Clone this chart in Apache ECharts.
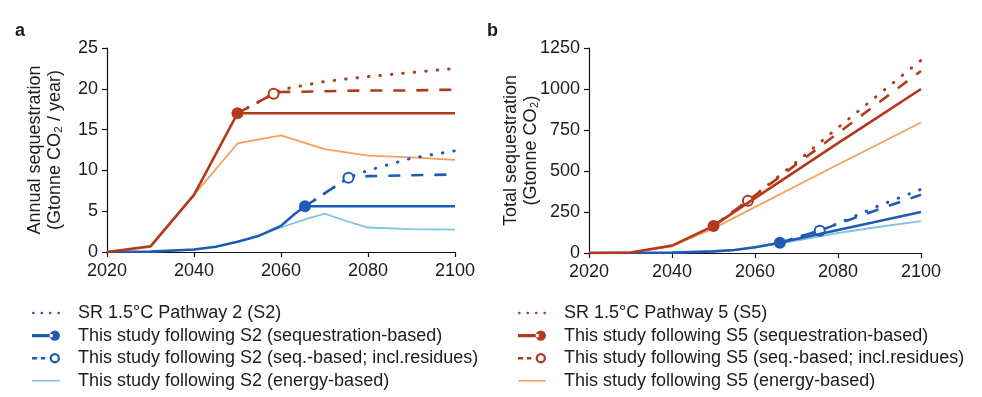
<!DOCTYPE html>
<html><head><meta charset="utf-8">
<script src="https://cdn.jsdelivr.net/npm/echarts@6/dist/echarts.min.js"></script>
<style>html,body{margin:0;padding:0;background:#fff}#c{width:982px;height:397px}</style>
</head><body><div id="c"></div>
<script>
// ---------- Category / label data ----------
const xTicks = [2020, 2040, 2060, 2080, 2100];
const S2_names = ['SR 1.5°C Pathway 2 (S2)', 'This study following S2 (sequestration-based)', 'This study following S2 (seq.-based; incl.residues)', 'This study following S2 (energy-based)'];
const S5_names = ['SR 1.5°C Pathway 5 (S5)', 'This study following S5 (sequestration-based)', 'This study following S5 (seq.-based; incl.residues)', 'This study following S5 (energy-based)'];

// ---------- Panel a: annual sequestration (Gtonne CO2 / year) ----------
const a_S2_pathway = [[2065.5,5.6],[2075.5,9.1],[2080,10.0],[2090,11.5],[2100,12.4]];
const a_S2_seq = [[2020,0],[2030,0.05],[2040,0.3],[2045,0.65],[2050,1.25],[2055,2.0],[2060,3.2],[2063,4.6],[2065.5,5.6],[2070,5.6],[2080,5.6],[2090,5.6],[2100,5.6]];
const a_S2_res = [[2065.5,5.6],[2075.5,9.1],[2080,9.3],[2090,9.4],[2100,9.5]];
const a_S2_energy = [[2020,0],[2030,0.05],[2040,0.3],[2045,0.65],[2050,1.25],[2055,2.0],[2060,3.0],[2065,3.9],[2070,4.7],[2075,3.8],[2080,3.0],[2090,2.8],[2100,2.75]];
const a_S5_pathway = [[2050,17.0],[2058.3,19.4],[2060,19.9],[2070,20.9],[2080,21.5],[2090,22.0],[2100,22.5]];
const a_S5_seq = [[2020,0],[2030,0.7],[2040,7.0],[2050,17.0],[2060,17.0],[2070,17.0],[2080,17.0],[2090,17.0],[2100,17.0]];
const a_S5_res = [[2050,17.0],[2058.3,19.4],[2060,19.6],[2070,19.7],[2080,19.8],[2090,19.8],[2100,19.9]];
const a_S5_energy = [[2020,0],[2030,0.6],[2040,7.0],[2050,13.3],[2060,14.3],[2070,12.6],[2080,11.8],[2090,11.6],[2100,11.3]];
const a_marks = {S2seq: [2065.5,5.6], S2res: [2075.5,9.1], S5seq: [2050,17.0], S5res: [2058.3,19.4]};

// ---------- Panel b: total sequestration (Gtonne CO2) ----------
const b_S2_pathway = [[2066,63],[2075.6,136],[2080,180],[2090,290],[2100,388]];
const b_S2_seq = [[2020,0],[2030,0],[2040,2],[2050,10],[2055,18],[2060,35],[2066,63],[2070,85],[2080,140],[2090,195],[2100,250]];
const b_S2_res = [[2066,63],[2075.6,136],[2080,178],[2090,268],[2100,355]];
const b_S2_energy = [[2020,0],[2030,0],[2040,2],[2050,10],[2055,18],[2060,33],[2070,75],[2080,122],[2090,160],[2100,195]];
const b_S5_pathway = [[2050,165],[2058.3,319],[2060,352],[2070,555],[2080,765],[2090,970],[2100,1175]];
const b_S5_seq = [[2020,0],[2030,3],[2040,45],[2050,165],[2060,335],[2070,502],[2080,670],[2090,835],[2100,1000]];
const b_S5_res = [[2050,165],[2058.3,319],[2070,541],[2080,731],[2090,921],[2100,1110]];
const b_S5_energy = [[2020,0],[2030,3],[2040,42],[2050,150],[2060,280],[2070,410],[2080,540],[2090,668],[2100,796]];
const b_marks = {S2seq: [2066,63], S2res: [2075.6,136], S5seq: [2050,165], S5res: [2058.3,319]};

// ---------- Styling ----------
const FONT = 'Liberation Sans, Arial, Helvetica, sans-serif';
const TXT = '#1c1c1c';
const C = {red: '#b3391c', orange: '#f6a05c', blue: '#1f5bb5', lblue: '#84c4e0'};

const ICON_DOT = 'path://M0,7 a1.3,1.3 0 1,0 2.6,0 a1.3,1.3 0 1,0 -2.6,0 Z M8.3,7 a1.3,1.3 0 1,0 2.6,0 a1.3,1.3 0 1,0 -2.6,0 Z M16.6,7 a1.3,1.3 0 1,0 2.6,0 a1.3,1.3 0 1,0 -2.6,0 Z M24.9,7 a1.3,1.3 0 1,0 2.6,0 a1.3,1.3 0 1,0 -2.6,0 Z';
const ICON_SEQ = 'path://M0,5.5 L20,5.5 L20,8.5 L0,8.5 Z M17,7 a5,5 0 1,0 10,0 a5,5 0 1,0 -10,0 Z';
const ICON_RES = 'path://M0,5.8 L5,5.8 L5,8.2 L0,8.2 Z M8.5,5.8 L12.8,5.8 L12.8,8.2 L8.5,8.2 Z M17,7 a5,5 0 1,0 10,0 a5,5 0 1,0 -10,0 Z M19.2,7 a2.8,2.8 0 1,1 5.6,0 a2.8,2.8 0 1,1 -5.6,0 Z';
const ICON_EN = 'path://M0,6.2 L28,6.2 L28,7.8 L0,7.8 Z';

function markFn(mark, sym) {
  return function (v) { return (v[0] === mark[0] && v[1] === mark[1]) ? sym : 'none'; };
}

function seriesFor(g, names, col, colLight, pathway, seq, res, energy, mSeq, mRes) {
  return [
    {type: 'line', name: names[3], data: energy, xAxisIndex: g, yAxisIndex: g, color: colLight,
     symbol: 'none', lineStyle: {width: 1.8, color: colLight}, z: 1},
    {type: 'line', name: names[0], data: pathway, xAxisIndex: g, yAxisIndex: g, color: col,
     symbol: 'none', lineStyle: {width: 3, color: col, type: [0.5, 11], cap: 'round'}, z: 2},
    {type: 'line', name: names[2], data: res, xAxisIndex: g, yAxisIndex: g, color: col,
     symbol: markFn(mRes, 'emptyCircle'), symbolSize: 10, showSymbol: true,
     itemStyle: {color: col, borderWidth: 2}, lineStyle: {width: 2.6, color: col, type: [12, 11]}, z: 3},
    {type: 'line', name: names[1], data: seq, xAxisIndex: g, yAxisIndex: g, color: col,
     symbol: markFn(mSeq, 'circle'), symbolSize: 12, showSymbol: true,
     itemStyle: {color: col, borderWidth: 0}, lineStyle: {width: 2.6, color: col}, z: 4}
  ];
}

const axisLine = {show: true, lineStyle: {color: '#111', width: 1.2}};
const axisTick = {show: true, inside: false, length: 5, lineStyle: {color: '#111', width: 1.2}};
const axisLabel = {fontSize: 18, color: TXT, fontFamily: FONT, formatter: function (v) { return String(v); }};

function xAx(g) {
  return {type: 'value', gridIndex: g, min: xTicks[0], max: xTicks[xTicks.length - 1], interval: xTicks[1] - xTicks[0],
    axisLine, axisTick, splitLine: {show: false}, axisLabel: Object.assign({margin: 10}, axisLabel)};
}
function yAx(g, max, interval, name, gap) {
  return {type: 'value', gridIndex: g, min: 0, max, interval,
    name, nameLocation: 'middle', nameRotate: 90, nameGap: gap, nameMoveOverlap: false,
    nameTextStyle: {fontSize: 18, color: TXT, fontFamily: FONT, lineHeight: 20},
    axisLine, axisTick, splitLine: {show: false}, axisLabel: Object.assign({margin: 9}, axisLabel)};
}

function legendFor(names, left) {
  const icons = [ICON_DOT, ICON_SEQ, ICON_RES, ICON_EN];
  return {
    orient: 'vertical', left, top: 303, padding: 0, itemWidth: 28, itemHeight: 14, itemGap: 2.6,
    height: 95, selectedMode: false,
    data: names.map((n, i) => ({name: n, icon: icons[i]})),
    textStyle: {fontSize: 18, color: TXT, fontFamily: FONT, lineHeight: 20, padding: [0, 0, 0, 13]}
  };
}

const chart = echarts.init(document.getElementById('c'), null, {renderer: 'canvas'});
chart.setOption({
  animation: false,
  backgroundColor: '#fff',
  title: [
    {text: 'a', left: 10, top: 17, textStyle: {fontSize: 18, fontWeight: 'bold', color: TXT, fontFamily: FONT}},
    {text: 'b', left: 482, top: 17, textStyle: {fontSize: 18, fontWeight: 'bold', color: TXT, fontFamily: FONT}}
  ],
  grid: [
    {left: 107, top: 48, width: 348, height: 204},
    {left: 589, top: 48, width: 332, height: 205}
  ],
  xAxis: [xAx(0), xAx(1)],
  yAxis: [
    yAx(0, 25, 5, 'Annual sequestration\n(Gtonne CO₂ / year)', 42),
    yAx(1, 1250, 250, 'Total sequestration\n(Gtonne CO₂)', 48)
  ],
  legend: [legendFor(S2_names, 32), legendFor(S5_names, 518)],
  series: [].concat(
    seriesFor(0, S2_names, C.blue, C.lblue, a_S2_pathway, a_S2_seq, a_S2_res, a_S2_energy, a_marks.S2seq, a_marks.S2res),
    seriesFor(0, S5_names, C.red, C.orange, a_S5_pathway, a_S5_seq, a_S5_res, a_S5_energy, a_marks.S5seq, a_marks.S5res),
    seriesFor(1, S2_names, C.blue, C.lblue, b_S2_pathway, b_S2_seq, b_S2_res, b_S2_energy, b_marks.S2seq, b_marks.S2res),
    seriesFor(1, S5_names, C.red, C.orange, b_S5_pathway, b_S5_seq, b_S5_res, b_S5_energy, b_marks.S5seq, b_marks.S5res)
  )
});
</script></body></html>
